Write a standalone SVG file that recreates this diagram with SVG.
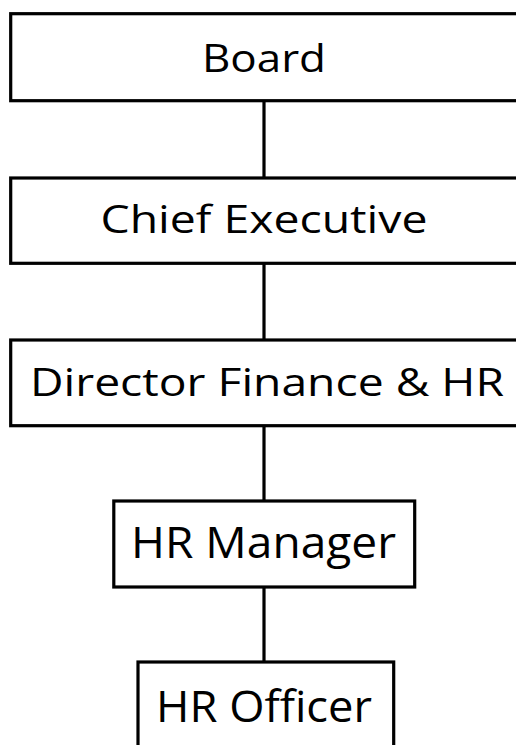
<svg xmlns="http://www.w3.org/2000/svg" width="516" height="745" viewBox="0 0 516 745">
<style>
.box{fill:#ffffff;stroke:#000000;stroke-width:3.2}
.lbl{font-family:"Open Sans","Noto Sans","DejaVu Sans",sans-serif;fill:#000000;text-anchor:middle}
.s1{font-size:39px}
.s2{font-size:43px}
.conn{stroke:#000000;stroke-width:3.2;fill:none}
</style>
<rect width="516" height="745" fill="#ffffff"/>
<g id="connectors">
<line class="conn" x1="264" y1="101" x2="264" y2="178"/>
<line class="conn" x1="264" y1="263" x2="264" y2="340"/>
<line class="conn" x1="264" y1="426" x2="264" y2="501"/>
<line class="conn" x1="264" y1="587" x2="264" y2="662"/>
</g>
<g id="board">
<rect class="box" x="10.7" y="13.7" width="510" height="87"/>
<text class="lbl s1" x="264" y="72.3" textLength="124" lengthAdjust="spacingAndGlyphs">Board</text>
</g>
<g id="chief-executive">
<rect class="box" x="10.7" y="178" width="510" height="85.3"/>
<text class="lbl s1" x="264" y="233.3" textLength="327" lengthAdjust="spacingAndGlyphs">Chief Executive</text>
</g>
<g id="director-finance-hr">
<rect class="box" x="10.7" y="340" width="510" height="85.7"/>
<text class="lbl s1" x="267" y="395.7" textLength="474" lengthAdjust="spacingAndGlyphs">Director Finance &amp; HR</text>
</g>
<g id="hr-manager">
<rect class="box" x="113.8" y="501" width="300.9" height="86"/>
<text class="lbl s2" x="263.5" y="558.3" textLength="265" lengthAdjust="spacingAndGlyphs">HR Manager</text>
</g>
<g id="hr-officer">
<rect class="box" x="138" y="662" width="255.7" height="100"/>
<text class="lbl s2" x="264" y="721.7" textLength="216" lengthAdjust="spacingAndGlyphs">HR Officer</text>
</g>
</svg>
